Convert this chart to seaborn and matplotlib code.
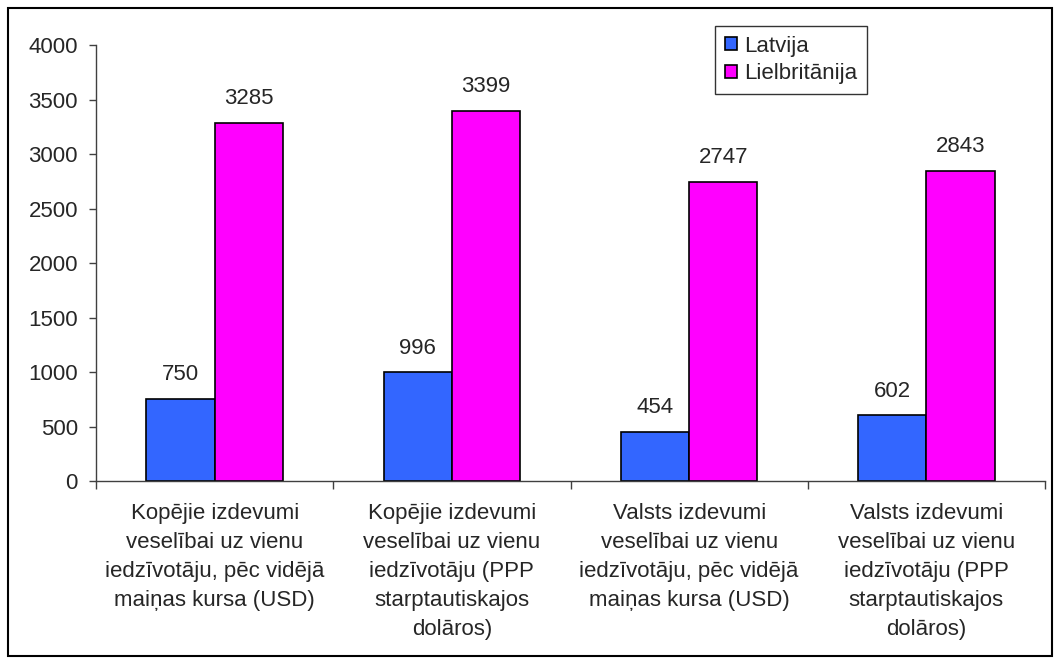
import matplotlib
matplotlib.use("Agg")
import matplotlib.pyplot as plt
import seaborn as sns
import pandas as pd
from matplotlib.patches import Rectangle

categories = [
    "Kopējie izdevumi\nveselībai uz vienu\niedzīvotāju, pēc vidējā\nmaiņas kursa (USD)",
    "Kopējie izdevumi\nveselībai uz vienu\niedzīvotāju (PPP\nstarptautiskajos\ndolāros)",
    "Valsts izdevumi\nveselībai uz vienu\niedzīvotāju, pēc vidējā\nmaiņas kursa (USD)",
    "Valsts izdevumi\nveselībai uz vienu\niedzīvotāju (PPP\nstarptautiskajos\ndolāros)",
]
latvija = [750, 996, 454, 602]
lielbritanija = [3285, 3399, 2747, 2843]
series = ["Latvija", "Lielbritānija"]
colors = ["#3366FF", "#FF00FF"]

df = pd.DataFrame({
    "cat": categories * 2,
    "val": latvija + lielbritanija,
    "country": [series[0]] * 4 + [series[1]] * 4,
})

sns.set_style("white")
plt.rcParams["font.family"] = ["Liberation Sans", "DejaVu Sans"]
fs = 16

fig = plt.figure(figsize=(10.59, 6.64), dpi=100)
ax = fig.add_axes([0.0907, 0.2756, 0.8961, 0.6564])

sns.barplot(data=df, x="cat", y="val", hue="country", palette=colors,
            width=0.575, gap=0, edgecolor="black", linewidth=1.2,
            saturation=1, ax=ax)

for cont in ax.containers:
    ax.bar_label(cont, fmt="%d", padding=10, fontsize=fs)

ax.set_ylim(0, 4000)
ax.set_xlim(-0.5, 3.5)
ax.set_yticks(range(0, 4001, 500))
ax.set_xlabel("")
ax.set_ylabel("")

for s in ["top", "right"]:
    ax.spines[s].set_visible(False)
for s in ["left", "bottom"]:
    ax.spines[s].set_color("#404040")
    ax.spines[s].set_linewidth(1)

ax.tick_params(axis="y", length=5, width=1, color="#404040", pad=8,
               labelsize=fs, direction="out", left=True)
ax.set_xticks([-0.5, 0.5, 1.5, 2.5, 3.5], minor=True)
ax.tick_params(axis="x", which="minor", length=6, width=1, color="#404040",
               direction="out", bottom=True)
ax.tick_params(axis="x", which="major", length=0, pad=16, labelsize=fs)
for lab in ax.get_xticklabels():
    lab.set_linespacing(1.5)

leg = ax.legend(loc="upper left", bbox_to_anchor=(0.652, 1.045),
                fontsize=fs, frameon=True, fancybox=False,
                edgecolor="black", handlelength=0.55, handleheight=0.55,
                handletextpad=0.3, borderpad=0.45, labelspacing=0.3,
                borderaxespad=0)
leg.get_frame().set_linewidth(1)

fig.patches.append(Rectangle((8 / 1059, 8 / 664), 1044 / 1059, 648 / 664,
                             transform=fig.transFigure, fill=False,
                             edgecolor="black", linewidth=1.5))

fig.savefig("out.png", dpi=100)
